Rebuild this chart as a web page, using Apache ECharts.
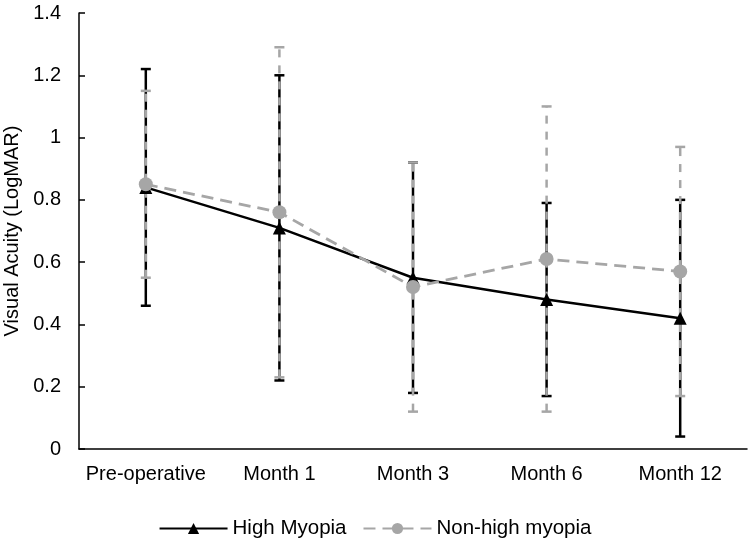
<!DOCTYPE html>
<html>
<head>
<meta charset="utf-8">
<script src="https://cdn.jsdelivr.net/npm/echarts@6/dist/echarts.min.js"></script>
<style>html,body{margin:0;padding:0;background:#fff;}#c{width:750px;height:539px;}</style>
</head>
<body>
<div id="c"></div>
<script>
const categories = ['Pre-operative', 'Month 1', 'Month 3', 'Month 6', 'Month 12'];
const highMyopia = [0.84, 0.71, 0.55, 0.48, 0.42];
const highMyopiaLow = [0.46, 0.22, 0.18, 0.17, 0.04];
const highMyopiaHigh = [1.22, 1.20, 0.92, 0.79, 0.80];
const nonHigh = [0.85, 0.76, 0.52, 0.61, 0.57];
const nonHighLow = [0.55, 0.23, 0.12, 0.12, 0.17];
const nonHighHigh = [1.15, 1.29, 0.92, 1.10, 0.97];
const yTicks = [0, 0.2, 0.4, 0.6, 0.8, 1, 1.2, 1.4];

const GRAY = '#a6a6a6';
const FONT = 'Liberation Sans, Arial, Helvetica, sans-serif';

function errData(lo, hi) {
  return categories.map((c, i) => [i, lo[i], hi[i]]);
}
function makeRender(color, dash) {
  return function (params, api) {
    const x = api.value(0);
    const pLo = api.coord([x, api.value(1)]);
    const pHi = api.coord([x, api.value(2)]);
    const hw = 5;
    const base = { stroke: color, lineWidth: 2.5 };
    return {
      type: 'group',
      children: [
        { type: 'line', shape: { x1: pLo[0], y1: pLo[1], x2: pHi[0], y2: pHi[1] },
          style: Object.assign({}, base, dash ? { lineDash: dash } : {}) },
        { type: 'line', shape: { x1: pHi[0] - hw, y1: pHi[1], x2: pHi[0] + hw, y2: pHi[1] }, style: base },
        { type: 'line', shape: { x1: pLo[0] - hw, y1: pLo[1], x2: pLo[0] + hw, y2: pLo[1] }, style: base }
      ]
    };
  };
}

const chart = echarts.init(document.getElementById('c'));
chart.setOption({
  animation: false,
  backgroundColor: '#fff',
  textStyle: { fontFamily: FONT },
  grid: { left: 79, right: 3, top: 13, bottom: 90, containLabel: false, outerBoundsMode: 'none' },
  legend: {
    data: ['High Myopia', 'Non-high myopia'],
    top: 513,
    left: 'center',
    itemWidth: 68,
    itemHeight: 14,
    itemGap: 16,
    textStyle: { fontSize: 20.5, color: '#000', fontFamily: FONT }
  },
  xAxis: {
    type: 'category',
    data: categories,
    boundaryGap: true,
    axisLine: { lineStyle: { color: '#000', width: 1.5 } },
    axisTick: { show: false },
    axisLabel: { color: '#000', fontSize: 20, margin: 15, interval: 0, fontFamily: FONT },
    splitLine: { show: false }
  },
  yAxis: {
    type: 'value',
    min: yTicks[0],
    max: yTicks[yTicks.length - 1],
    interval: 0.2,
    name: 'Visual Acuity (LogMAR)',
    nameLocation: 'middle',
    nameRotate: 90,
    nameGap: 57,
    nameTextStyle: { fontSize: 20, color: '#000', fontFamily: FONT },
    axisLine: { show: true, lineStyle: { color: '#000', width: 1.5 } },
    axisTick: { show: true, inside: true, length: 6, lineStyle: { color: '#000', width: 1.5 } },
    axisLabel: { color: '#000', fontSize: 20, margin: 18, fontFamily: FONT,
      formatter: v => String(Math.round(v * 10) / 10) },
    splitLine: { show: false }
  },
  series: [
    { type: 'custom', name: 'errHigh', data: errData(highMyopiaLow, highMyopiaHigh),
      renderItem: makeRender('#000', null), encode: { x: 0, y: [1, 2] }, z: 2, silent: true },
    { type: 'custom', name: 'errNon', data: errData(nonHighLow, nonHighHigh),
      renderItem: makeRender(GRAY, [8, 8]), encode: { x: 0, y: [1, 2] }, z: 2, silent: true },
    { type: 'line', name: 'High Myopia', data: highMyopia, z: 3,
      symbol: 'triangle', symbolSize: 13,
      itemStyle: { color: '#000' },
      lineStyle: { color: '#000', width: 2.5 } },
    { type: 'line', name: 'Non-high myopia', data: nonHigh, z: 4,
      symbol: 'circle', symbolSize: 14,
      itemStyle: { color: GRAY },
      lineStyle: { color: GRAY, width: 2.8, type: [12, 7] } }
  ]
});
</script>
</body>
</html>
